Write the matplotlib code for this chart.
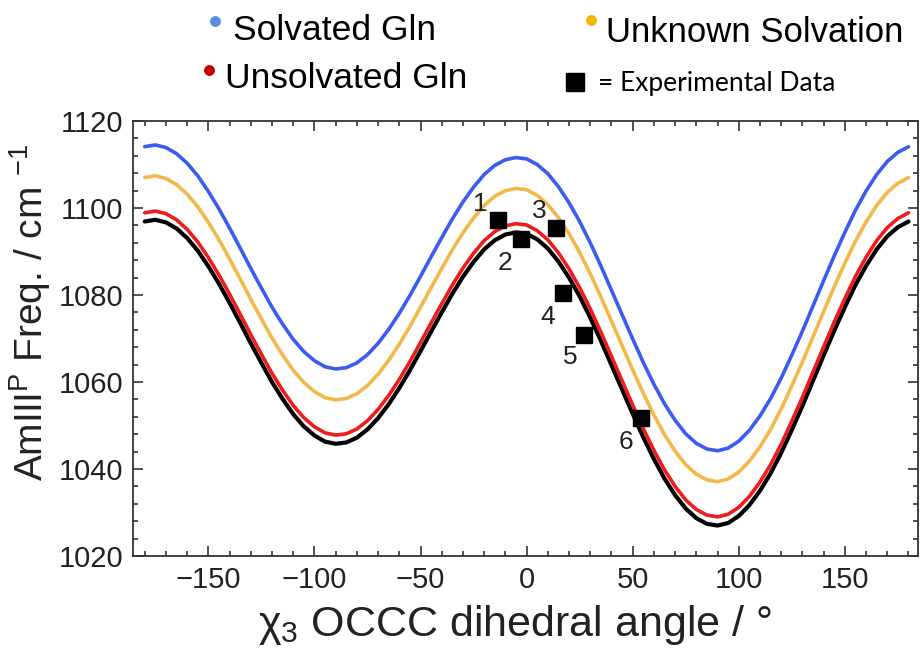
import numpy as np
import matplotlib
matplotlib.use("Agg")
import matplotlib.pyplot as plt
from matplotlib.ticker import MultipleLocator

plt.rcParams['font.family'] = ['Liberation Sans', 'DejaVu Sans']
plt.rcParams['mathtext.fontset'] = 'custom'
plt.rcParams['mathtext.rm'] = 'Liberation Sans'
plt.rcParams['mathtext.it'] = 'Liberation Sans:italic'

# dihedral angle grid (deg), 5 deg steps
chi3 = list(range(-180, 181, 5))

# AmIII^P frequency maps (cm-1)
solvated = [1114.1, 1114.5, 1113.9, 1112.5, 1110.3, 1107.4, 1103.8, 1099.8, 1095.4, 1090.8,
            1086.1, 1081.6, 1077.2, 1073.3, 1069.8, 1067.0, 1064.9, 1063.5, 1063.0, 1063.3,
            1064.4, 1066.3, 1068.9, 1072.1, 1075.8, 1079.9, 1084.3, 1088.8, 1093.2, 1097.5,
            1101.4, 1104.8, 1107.7, 1109.8, 1111.1, 1111.6, 1111.3, 1110.0, 1107.9, 1104.9,
            1101.2, 1096.9, 1092.0, 1086.7, 1081.1, 1075.5, 1069.9, 1064.5, 1059.5, 1055.0,
            1051.2, 1048.1, 1045.9, 1044.6, 1044.2, 1044.8, 1046.4, 1048.9, 1052.2, 1056.2,
            1060.9, 1066.2, 1071.7, 1077.5, 1083.3, 1089.0, 1094.4, 1099.5, 1103.9, 1107.7,
            1110.7, 1112.8, 1114.1]
unknown = [1107.0, 1107.4, 1106.8, 1105.4, 1103.2, 1100.3, 1096.7, 1092.7, 1088.3, 1083.7,
           1079.0, 1074.5, 1070.1, 1066.2, 1062.7, 1059.9, 1057.8, 1056.4, 1055.9, 1056.2,
           1057.3, 1059.2, 1061.8, 1065.0, 1068.7, 1072.8, 1077.2, 1081.7, 1086.1, 1090.4,
           1094.3, 1097.7, 1100.6, 1102.7, 1104.0, 1104.5, 1104.2, 1102.9, 1100.8, 1097.8,
           1094.1, 1089.8, 1084.9, 1079.6, 1074.0, 1068.4, 1062.8, 1057.4, 1052.4, 1047.9,
           1044.1, 1041.0, 1038.8, 1037.5, 1037.1, 1037.7, 1039.3, 1041.8, 1045.1, 1049.1,
           1053.8, 1059.1, 1064.6, 1070.4, 1076.2, 1081.9, 1087.3, 1092.4, 1096.8, 1100.6,
           1103.6, 1105.7, 1107.0]
unsolvated = [1098.9, 1099.3, 1098.7, 1097.3, 1095.1, 1092.2, 1088.6, 1084.6, 1080.2, 1075.6,
              1070.9, 1066.4, 1062.0, 1058.1, 1054.6, 1051.8, 1049.7, 1048.3, 1047.8, 1048.1,
              1049.2, 1051.1, 1053.7, 1056.9, 1060.6, 1064.7, 1069.1, 1073.6, 1078.0, 1082.3,
              1086.2, 1089.6, 1092.5, 1094.6, 1095.9, 1096.4, 1096.1, 1094.8, 1092.7, 1089.7,
              1086.0, 1081.7, 1076.8, 1071.5, 1065.9, 1060.3, 1054.7, 1049.3, 1044.3, 1039.8,
              1036.0, 1032.9, 1030.7, 1029.4, 1029.0, 1029.6, 1031.2, 1033.7, 1037.0, 1041.0,
              1045.7, 1051.0, 1056.5, 1062.3, 1068.1, 1073.8, 1079.2, 1084.3, 1088.7, 1092.5,
              1095.5, 1097.6, 1098.9]
combined = [1096.9, 1097.3, 1096.7, 1095.3, 1093.1, 1090.2, 1086.6, 1082.6, 1078.2, 1073.6,
            1068.9, 1064.4, 1060.0, 1056.1, 1052.6, 1049.8, 1047.7, 1046.3, 1045.8, 1046.1,
            1047.2, 1049.1, 1051.7, 1054.9, 1058.6, 1062.7, 1067.1, 1071.6, 1076.0, 1080.3,
            1084.2, 1087.6, 1090.5, 1092.6, 1093.9, 1094.4, 1094.1, 1092.8, 1090.7, 1087.7,
            1084.0, 1079.7, 1074.8, 1069.5, 1063.9, 1058.3, 1052.7, 1047.3, 1042.3, 1037.8,
            1034.0, 1030.9, 1028.7, 1027.4, 1027.0, 1027.6, 1029.2, 1031.7, 1035.0, 1039.0,
            1043.7, 1049.0, 1054.5, 1060.3, 1066.1, 1071.8, 1077.2, 1082.3, 1086.7, 1090.5,
            1093.5, 1095.6, 1096.9]

# experimental points
exp_angle = [-13.5, -2.8, 13.7, 17.0, 27.0, 53.9]
exp_freq = [1097.2, 1092.9, 1095.5, 1080.4, 1070.8, 1051.7]
exp_label = ['1', '2', '3', '4', '5', '6']
label_offset = [(-13, 12), (-11.5, -17), (-12, 12), (-11, -17), (-10, -16), (-11, -17)]

fig = plt.figure(figsize=(9.22, 6.51), dpi=100)
ax = fig.add_axes([0.1443, 0.1459, 0.8514, 0.6682])

lw = 2.6
ax.plot(chi3, combined, color='black', lw=lw + 0.4, solid_capstyle='round')
ax.plot(chi3, unsolvated, color='#ee1c1c', lw=lw, solid_capstyle='round')
ax.plot(chi3, unknown, color='#f4b84a', lw=lw, solid_capstyle='round')
ax.plot(chi3, solvated, color='#3c5cf0', lw=lw, solid_capstyle='round')

ax.plot(exp_angle, exp_freq, 's', color='black', ms=11, zorder=5)
for a, f, t, off in zip(exp_angle, exp_freq, exp_label, label_offset):
    ax.annotate(t, (a, f), xytext=off, textcoords='offset points',
                ha='center', va='center', fontsize=19, color='#222222')

ax.set_xlim(-185.5, 184.5)
ax.set_ylim(1020, 1120)
ax.xaxis.set_major_locator(MultipleLocator(50))
ax.xaxis.set_minor_locator(MultipleLocator(10))
ax.yaxis.set_major_locator(MultipleLocator(20))
ax.yaxis.set_minor_locator(MultipleLocator(4))
ax.tick_params(which='both', direction='in', top=True, right=True,
               color='#333333', width=1.2)
ax.tick_params(which='major', length=7, labelsize=21, pad=7, labelcolor='#222222')
ax.tick_params(which='minor', length=3.5)
for s in ax.spines.values():
    s.set_color('#333333')
    s.set_linewidth(1.3)
ax.set_xticks([-150, -100, -50, 0, 50, 100, 150])
ax.set_xticklabels(['\u2212150', '\u2212100', '\u221250', '0', '50', '100', '150'])

fig.text(30 / 922, 1 - 312 / 651, 'AmIII$^{\\mathrm{P}}$ Freq. / cm $^{-1}$',
         rotation=90, ha='center', va='center', fontsize=28, color='#222222')
fig.text(515 / 922, 1 - 636 / 651, '\u03c7$_3$ OCCC dihedral angle / \u00b0',
         ha='center', va='baseline', fontsize=31, color='#222222')

# legend drawn as free text above the frame
fig.text(233 / 922, 1 - 31 / 651, 'Solvated Gln', fontsize=25.5, va='center')
fig.text(225 / 922, 1 - 79 / 651, 'Unsolvated Gln', fontsize=25.5, va='center')
fig.text(606 / 922, 1 - 33 / 651, 'Unknown Solvation', fontsize=25, va='center')
fig.text(598 / 922, 1 - 83 / 651, '= Experimental Data', fontsize=19, va='center',
         family=['Lato', 'DejaVu Sans'])
for px, py, mk, size, col in [(215, 21, 'o', 6.8, '#5b8fd9'),
                              (209, 70, 'o', 6.8, '#c80000'),
                              (591, 20, 'o', 6.8, '#f2b800'),
                              (575, 82, 's', 13, 'black')]:
    fig.add_artist(plt.Line2D([px / 922], [1 - py / 651], marker=mk, ms=size,
                              color=col, transform=fig.transFigure))

fig.savefig('out.png', dpi=100)
